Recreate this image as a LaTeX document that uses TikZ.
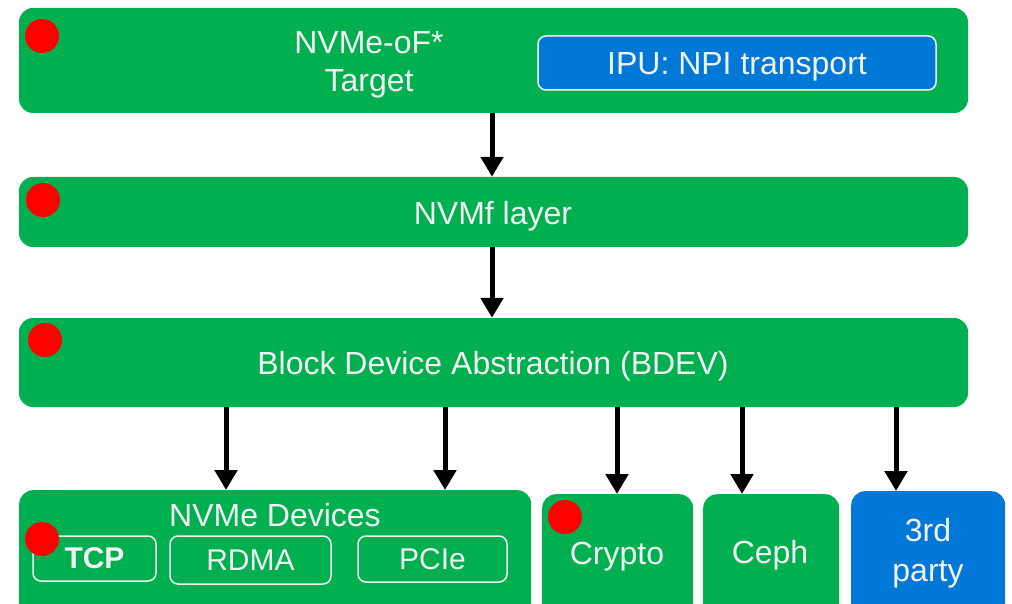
\documentclass[tikz,border=0pt]{standalone}
\usepackage{fontspec}
\setmainfont{Liberation Sans}
\usetikzlibrary{arrows.meta}
\definecolor{grn}{HTML}{00B050}
\definecolor{blu}{HTML}{0078D7}
\definecolor{txt}{HTML}{F2F2F2}
\tikzset{
  layer/.style={fill=grn, draw=none, rounded corners=14pt, inner sep=0pt},
  sub/.style={draw=txt, line width=1.5pt, rounded corners=8pt, inner sep=0pt, text=txt},
  lbl/.style={text=txt, align=center, inner sep=0pt, font=\fontsize{32}{38}\selectfont, yshift=-3.5pt},
  dot/.style={circle, fill=red, draw=none, minimum size=34pt, inner sep=0pt},
  arr/.style={line width=5pt, -{Triangle[width=22pt,length=20pt]}},
}
\begin{document}
\begin{tikzpicture}[x=1pt,y=-1pt]
\useasboundingbox (0,0) rectangle (1012,604);
\clip (0,0) rectangle (1012,604);
% top
\node[layer, minimum width=949pt, minimum height=105pt] (top) at (493.5,60.5) {};
\node[lbl] (toptxt) at (369,61) {NVMe-oF*\\Target};
\node[sub, fill=blu, minimum width=398pt, minimum height=54pt, text depth=0pt, font=\fontsize{32}{38}\selectfont] (ipu) at (737,63) {IPU: NPI transport};
\node[dot] (d1) at (42,36) {};
% nvmf
\node[layer, minimum width=949pt, minimum height=70pt] (nvmf) at (493.5,212) {};
\node[lbl] (nvmftxt) at (493,213) {NVMf layer};
\node[dot] (d2) at (43,200) {};
% bdev
\node[layer, minimum width=949pt, minimum height=89pt] (bdev) at (493.5,362.5) {};
\node[lbl] (bdevtxt) at (493,363) {Block Device Abstraction (BDEV)};
\node[dot] (d3) at (45,340) {};
% bottom row
\node[layer, minimum width=512pt, minimum height=140pt, anchor=north west] (nvme) at (19,490) {};
\node[lbl] (nvmetxt) at (275,512) {NVMe Devices};
\node[sub, minimum width=123pt, minimum height=45pt, font=\bfseries\fontsize{30}{36}\selectfont] (tcp) at (94.5,558.5) {TCP};
\node[sub, minimum width=161pt, minimum height=48pt, font=\fontsize{30}{36}\selectfont] (rdma) at (250.5,560) {RDMA};
\node[sub, minimum width=149pt, minimum height=46pt, font=\fontsize{30}{36}\selectfont] (pcie) at (432.5,559) {PCIe};
\node[dot] (d4) at (42,539) {};
\node[layer, minimum width=151pt, minimum height=140pt, anchor=north west] (crypto) at (542,494) {};
\node[lbl] (cryptotxt) at (617,553) {Crypto};
\node[dot] (d5) at (565,517) {};
\node[layer, minimum width=136pt, minimum height=140pt, anchor=north west] (ceph) at (703,494) {};
\node[lbl] (cephtxt) at (770,552) {Ceph};
\node[layer, fill=blu, minimum width=154pt, minimum height=140pt, anchor=north west] (third) at (851,491) {};
\node[lbl, font=\fontsize{32}{40}\selectfont] (thirdtxt) at (928,550) {3rd\\party};
% arrows
\coordinate (a0) at (492,0);
\draw[arr] (top.south -| a0) -- (nvmf.north -| a0);
\draw[arr] (nvmf.south -| a0) -- (bdev.north -| a0);
\coordinate (a1) at (226,0);
\coordinate (a2) at (445,0);
\coordinate (a3) at (617,0);
\coordinate (a4) at (742,0);
\coordinate (a5) at (896,0);
\draw[arr] (bdev.south -| a1) -- (nvme.north -| a1);
\draw[arr] (bdev.south -| a2) -- (nvme.north -| a2);
\draw[arr] (bdev.south -| a3) -- (crypto.north -| a3);
\draw[arr] (bdev.south -| a4) -- (ceph.north -| a4);
\draw[arr] (bdev.south -| a5) -- (third.north -| a5);
\end{tikzpicture}
\end{document}
